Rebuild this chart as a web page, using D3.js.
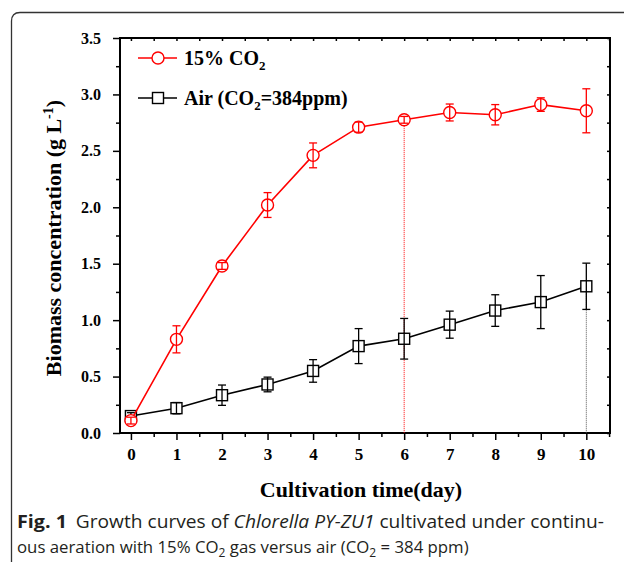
<!DOCTYPE html>
<html lang="en">
<head>
  <meta charset="UTF-8">
  <title>Growth curves of Chlorella PY-ZU1</title>
  <style>
    body { margin: 0; background: #ffffff; }
    #chart text.serif { font-family: "Liberation Serif", "Times New Roman", serif; font-weight: bold; fill: #000; }
    #chart .caption { font-family: "Open Sans", "Noto Sans", sans-serif; font-size: 16.8px; fill: #231f20; }
    .axis path { display: none; }
    .axis line { stroke: #000; stroke-width: 1.5; }
    .axis text { font-family: "Liberation Serif", serif; font-weight: bold; font-size: 17px; fill: #000; }
  </style>
  <script src="https://cdn.jsdelivr.net/npm/d3@7"></script>
</head>
<body>
<svg id="chart" width="624" height="565"></svg>
<script>
// data
const days = [0, 1, 2, 3, 4, 5, 6, 7, 8, 9, 10]
const co2 = [0.11, 0.83, 1.48, 2.02, 2.46, 2.71, 2.775, 2.84, 2.82, 2.91, 2.855]
const co2Err = [0.03, 0.12, 0.03, 0.11, 0.11, 0.045, 0.03, 0.075, 0.09, 0.06, 0.195]
const air = [0.15, 0.22, 0.335, 0.43, 0.55, 0.77, 0.835, 0.96, 1.085, 1.16, 1.30]
const airErr = [0.03, 0.05, 0.09, 0.065, 0.1, 0.155, 0.18, 0.12, 0.14, 0.235, 0.205]
const yTicks = [0, 0.5, 1, 1.5, 2, 2.5, 3, 3.5]

let svg = d3.select("#chart")

// outer frame of the figure box
svg.append("path")
  .attr("d", "M11.5,562 L11.5,21 Q11.5,12.5 20,12.5 L624,12.5")
  .attr("fill", "none")
  .attr("stroke", "#333")
  .attr("stroke-width", 1.3)

let x = d3.scaleLinear().domain([-0.24, 10.52]).range([120, 610])
let y = d3.scaleLinear().domain([0, 3.5]).range([433, 38])

let minorX = d3.range(0, 10.6, 0.5).filter(d => d % 1 !== 0)
let minorY = d3.range(0.25, 3.5, 0.5)

// bottom axis
svg.append("g").attr("class", "axis").attr("transform", "translate(0,433)")
  .call(d3.axisBottom(x).tickValues(days).tickFormat(d3.format("d")).tickSize(7).tickPadding(8).tickSizeOuter(0))
svg.append("g").attr("class", "axis").attr("transform", "translate(0,433)")
  .call(d3.axisBottom(x).tickValues(minorX).tickFormat("").tickSize(4).tickSizeOuter(0))

// left axis
svg.append("g").attr("class", "axis y").attr("transform", "translate(120,0)")
  .call(d3.axisLeft(y).tickValues(yTicks).tickFormat(d3.format(".1f")).tickSize(7).tickPadding(12).tickSizeOuter(0))
svg.selectAll(".axis.y text").style("font-size", "16px")
svg.append("g").attr("class", "axis").attr("transform", "translate(120,0)")
  .call(d3.axisLeft(y).tickValues(minorY).tickFormat("").tickSize(4).tickSizeOuter(0))

// mirrored ticks on top and right, pointing inward
svg.append("g").attr("class", "axis").attr("transform", "translate(0,38)")
  .call(d3.axisBottom(x).tickValues(days.concat(minorX)).tickFormat("").tickSize(3).tickSizeOuter(0))
svg.append("g").attr("class", "axis").attr("transform", "translate(610,0)")
  .call(d3.axisLeft(y).tickValues(yTicks.concat(minorY)).tickFormat("").tickSize(3).tickSizeOuter(0))

// plot frame
svg.append("rect")
  .attr("x", 120).attr("y", 38).attr("width", 490).attr("height", 395)
  .attr("fill", "none").attr("stroke", "#000").attr("stroke-width", 2)

// dotted drop lines
svg.append("line")
  .attr("x1", x(6)).attr("x2", x(6)).attr("y1", y(co2[6])).attr("y2", y(0))
  .attr("stroke", "#ff0000").attr("stroke-width", 1).attr("stroke-dasharray", "1,1")
svg.append("line")
  .attr("x1", x(10)).attr("x2", x(10)).attr("y1", y(air[10])).attr("y2", y(0))
  .attr("stroke", "#555").attr("stroke-width", 1).attr("stroke-dasharray", "1,1")

let line = d3.line().x((d, i) => x(days[i])).y(d => y(d))

function drawSeries(vals, errs, color, shape) {
  let g = svg.append("g")
  g.append("path").datum(vals)
    .attr("d", line).attr("fill", "none").attr("stroke", color).attr("stroke-width", 1.6)
  if (shape === "circle") {
    g.selectAll("circle").data(vals).join("circle")
      .attr("cx", (d, i) => x(days[i])).attr("cy", d => y(d)).attr("r", 6)
      .attr("fill", "#fff").attr("stroke", color).attr("stroke-width", 1.4)
  } else {
    g.selectAll("rect.m").data(vals).join("rect").attr("class", "m")
      .attr("x", (d, i) => x(days[i]) - 5.5).attr("y", d => y(d) - 5.5)
      .attr("width", 11).attr("height", 11)
      .attr("fill", "#fff").attr("stroke", color).attr("stroke-width", 1.4)
  }
  // error bars on top of the markers
  let eb = g.selectAll("g.err").data(vals).join("g").attr("class", "err")
  eb.append("line")
    .attr("x1", (d, i) => x(days[i])).attr("x2", (d, i) => x(days[i]))
    .attr("y1", (d, i) => y(d + errs[i])).attr("y2", (d, i) => y(d - errs[i]))
    .attr("stroke", color).attr("stroke-width", 1.3)
  for (let s of [1, -1]) {
    eb.append("line")
      .attr("x1", (d, i) => x(days[i]) - 4).attr("x2", (d, i) => x(days[i]) + 4)
      .attr("y1", (d, i) => y(d + s * errs[i])).attr("y2", (d, i) => y(d + s * errs[i]))
      .attr("stroke", color).attr("stroke-width", 1.3)
  }
}

drawSeries(air, airErr, "#000", "square")
drawSeries(co2, co2Err, "#ff0000", "circle")

// legend
let leg = svg.append("g")
leg.append("line").attr("x1", 138).attr("x2", 177).attr("y1", 58).attr("y2", 58).attr("stroke", "#ff0000").attr("stroke-width", 1.6)
leg.append("circle").attr("cx", 158).attr("cy", 58).attr("r", 6).attr("fill", "#fff").attr("stroke", "#ff0000").attr("stroke-width", 1.4)
leg.append("line").attr("x1", 138).attr("x2", 177).attr("y1", 98).attr("y2", 98).attr("stroke", "#000").attr("stroke-width", 1.6)
leg.append("rect").attr("x", 152.5).attr("y", 92.5).attr("width", 11).attr("height", 11).attr("fill", "#fff").attr("stroke", "#000").attr("stroke-width", 1.4)

let t1 = leg.append("text").attr("class", "serif").attr("x", 184).attr("y", 65).style("font-size", "20px")
t1.append("tspan").text("15% CO")
t1.append("tspan").attr("dy", 5).style("font-size", "13px").text("2")

let t2 = leg.append("text").attr("class", "serif").attr("x", 184).attr("y", 105).style("font-size", "20px")
t2.append("tspan").text("Air (CO")
t2.append("tspan").attr("dy", 5).style("font-size", "13px").text("2")
t2.append("tspan").attr("dy", -5).text("=384ppm)")

// axis titles
svg.append("text").attr("class", "serif")
  .attr("x", 361).attr("y", 497).attr("text-anchor", "middle").style("font-size", "22px")
  .text("Cultivation time(day)")

let yl = svg.append("text").attr("class", "serif")
  .attr("transform", "translate(61,238) rotate(-90)").attr("text-anchor", "middle").style("font-size", "22px")
yl.append("tspan").text("Biomass concentration (g L")
yl.append("tspan").attr("dy", -8).style("font-size", "14px").text("-1")
yl.append("tspan").attr("dy", 8).text(")")

// caption; the first line is stretched to the box width like the justified source
let c1 = svg.append("text").attr("class", "caption").attr("x", 17).attr("y", 528)
  .style("font-size", "17.5px")
  .attr("textLength", 587).attr("lengthAdjust", "spacingAndGlyphs")
c1.append("tspan").style("font-weight", "bold").style("font-size", "18px").text("Fig. 1")
c1.append("tspan").attr("dx", 8).text("Growth curves of ")
c1.append("tspan").style("font-style", "italic").text("Chlorella PY-ZU1")
c1.append("tspan").text(" cultivated under continu-")

let c2 = svg.append("text").attr("class", "caption").attr("x", 17).attr("y", 553)
c2.append("tspan").text("ous aeration with 15% CO")
c2.append("tspan").attr("dy", 4).style("font-size", "12px").text("2")
c2.append("tspan").attr("dy", -4).text(" gas versus air (CO")
c2.append("tspan").attr("dy", 4).style("font-size", "12px").text("2")
c2.append("tspan").attr("dy", -4).text(" = 384 ppm)")
</script>
</body>
</html>
